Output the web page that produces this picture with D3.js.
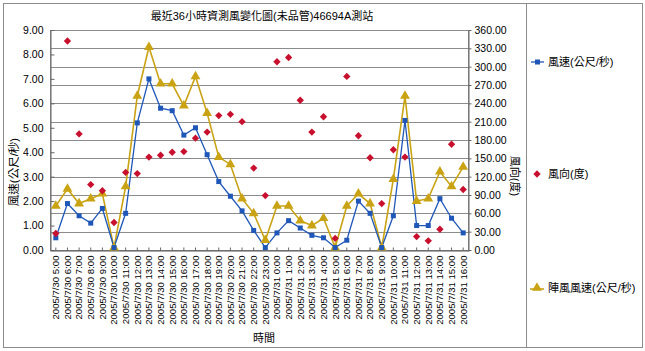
<!DOCTYPE html>
<html><head><meta charset="utf-8">
<script src="https://cdn.jsdelivr.net/npm/d3@7"></script>
<style>
body{margin:0;background:#fff;}
text{font-family:"Liberation Sans",Arial,"Noto Sans CJK TC",sans-serif;fill:#000;}
.cjk{font-family:"Liberation Sans","Noto Sans CJK TC",sans-serif;}
</style></head>
<body><svg id="c" width="645" height="351"></svg>
<script>
const title = "最近36小時資測風變化圖(未品管)46694A測站";
const times = [
"2005/7/30 5:00","2005/7/30 6:00","2005/7/30 7:00","2005/7/30 8:00","2005/7/30 9:00",
"2005/7/30 10:00","2005/7/30 11:00","2005/7/30 12:00","2005/7/30 13:00","2005/7/30 14:00",
"2005/7/30 15:00","2005/7/30 16:00","2005/7/30 17:00","2005/7/30 18:00","2005/7/30 19:00",
"2005/7/30 20:00","2005/7/30 21:00","2005/7/30 22:00","2005/7/30 23:00","2005/7/31 0:00",
"2005/7/31 1:00","2005/7/31 2:00","2005/7/31 3:00","2005/7/31 4:00","2005/7/31 5:00",
"2005/7/31 6:00","2005/7/31 7:00","2005/7/31 8:00","2005/7/31 9:00","2005/7/31 10:00",
"2005/7/31 11:00","2005/7/31 12:00","2005/7/31 13:00","2005/7/31 14:00","2005/7/31 15:00",
"2005/7/31 16:00"];
const windSpeed = [0.5,1.9,1.4,1.1,1.7,0.1,1.5,5.2,7.0,5.8,5.7,4.7,5.0,3.9,2.8,2.2,1.6,0.8,0.1,0.7,1.2,0.9,0.6,0.5,0.1,0.4,2.0,1.5,0.1,1.4,5.3,1.0,1.0,2.1,1.3,0.7];
const windDir = [27,342,190,107,97,45,127,125,152,155,160,161,183,193,220,222,210,134,89,308,315,245,193,218,19,284,187,151,76,164,152,22,15,34,173,99];
const gustSpeed = [1.8,2.5,1.9,2.1,2.3,0.1,2.6,6.3,8.3,6.8,6.8,5.9,7.1,5.6,3.8,3.5,2.1,1.5,0.4,1.8,1.8,1.2,1.0,1.3,0.1,1.8,2.3,1.9,0.1,2.9,6.3,2.0,2.1,3.2,2.6,3.4];
const leftTicks = [0,1,2,3,4,5,6,7,8,9];
const rightTicks = [0,30,60,90,120,150,180,210,240,270,300,330,360];
const names = {speed:"風速(公尺/秒)", dir:"風向(度)", gust:"陣風風速(公尺/秒)"};
const axisTitles = {left:"風速(公尺/秒)", right:"風向(度)", x:"時間"};

const svg = d3.select("#c");
const L=50,R=469,T=30,B=250;
const blue="#1f57b8", gold="#c9a313", red="#c8102e", grid="#8c8c8c";

// frames
svg.append("rect").attr("x",3.5).attr("y",3.5).attr("width",639).attr("height",344)
  .attr("fill","none").attr("stroke","#8c8c8c");
svg.append("line").attr("x1",526.5).attr("x2",526.5).attr("y1",3.5).attr("y2",347.5).attr("stroke","#8c8c8c");

const x = d3.scaleBand().domain(times).range([L,R]);
const cx = d => x(d)+x.bandwidth()/2;
const yL = d3.scaleLinear().domain([0,9]).range([B,T]);
const yR = d3.scaleLinear().domain([0,360]).range([B,T]);

// gridlines from right axis
svg.append("g").selectAll("line").data(rightTicks).join("line")
  .attr("x1",L).attr("x2",R).attr("y1",d=>Math.round(yR(d))+0.5).attr("y2",d=>Math.round(yR(d))+0.5)
  .attr("stroke",grid).attr("stroke-width",1);
// plot border
svg.append("rect").attr("x",L+0.5).attr("y",T+0.5).attr("width",R-L-1).attr("height",B-T)
  .attr("fill","none").attr("stroke",grid);

// axes
const ax = svg.append("g").attr("transform",`translate(${L+0.5},0)`)
  .call(d3.axisLeft(yL).tickValues(leftTicks).tickFormat(d3.format(".2f")).tickSizeInner(-4).tickSizeOuter(0).tickPadding(7));
const ar = svg.append("g").attr("transform",`translate(${R-0.5},0)`)
  .call(d3.axisRight(yR).tickValues(rightTicks).tickFormat(d3.format(".2f")).tickSizeInner(3).tickSizeOuter(0).tickPadding(3));
const xb = svg.append("g").attr("transform",`translate(0,${B+0.5})`)
  .call(d3.axisBottom(x).tickSizeInner(-3).tickSizeOuter(0).tickPadding(5));
[ax,ar,xb].forEach(g=>{
  g.select(".domain").attr("stroke","#666");
  g.selectAll(".tick line").attr("stroke","#666");
  g.selectAll("text").attr("font-size","10.5px").attr("fill","#000");
});
xb.select(".domain").attr("stroke","#555");
xb.selectAll("text").attr("font-size","9.6px").attr("text-anchor","end")
  .attr("transform","rotate(-90)").attr("x",-5).attr("y",0).attr("dy","0.35em");

// titles
svg.append("text").attr("class","cjk").attr("x",262).attr("y",20).attr("text-anchor","middle")
  .attr("font-size","11px").text(title);
svg.append("text").attr("class","cjk").attr("transform","translate(18,172) rotate(-90)")
  .attr("text-anchor","middle").attr("font-size","11.5px").text(axisTitles.left);
svg.append("text").attr("class","cjk").attr("transform","translate(511,176) rotate(90)")
  .attr("text-anchor","middle").attr("font-size","11px").text(axisTitles.right);
svg.append("text").attr("class","cjk").attr("x",264).attr("y",342).attr("text-anchor","middle")
  .attr("font-size","11px").text(axisTitles.x);

// series
const line = (ys,scale)=>d3.line().x((d,i)=>cx(times[i])).y(d=>scale(d))(ys);
svg.append("path").attr("d",line(gustSpeed,yL)).attr("fill","none").attr("stroke",gold).attr("stroke-width",1.6);
svg.append("path").attr("d",line(windSpeed,yL)).attr("fill","none").attr("stroke",blue).attr("stroke-width",1.3);
const tri = d3.symbol().type(d3.symbolTriangle).size(42);
const dia = d3.symbol().type(d3.symbolSquare).size(27);
svg.append("g").selectAll("path").data(gustSpeed).join("path")
  .attr("d",tri).attr("transform",(d,i)=>`translate(${cx(times[i])},${yL(d)})`).attr("fill",gold);
svg.append("g").selectAll("rect").data(windSpeed).join("rect")
  .attr("x",(d,i)=>cx(times[i])-2.5).attr("y",d=>yL(d)-2.5).attr("width",5).attr("height",5).attr("fill",blue);
svg.append("g").selectAll("path").data(windDir).join("path")
  .attr("d",dia).attr("transform",(d,i)=>`translate(${cx(times[i])},${yR(d)}) rotate(45)`).attr("fill",red);

// legend
const lg = svg.append("g");
lg.append("line").attr("x1",531).attr("x2",544).attr("y1",62).attr("y2",62).attr("stroke",blue).attr("stroke-width",1.3);
lg.append("rect").attr("x",535).attr("y",59.5).attr("width",5).attr("height",5).attr("fill",blue);
lg.append("text").attr("class","cjk").attr("x",548).attr("y",66).attr("font-size","11px").text(names.speed);
lg.append("path").attr("d",dia).attr("transform","translate(537,174) rotate(45)").attr("fill",red);
lg.append("text").attr("class","cjk").attr("x",548).attr("y",178).attr("font-size","11px").text(names.dir);
lg.append("line").attr("x1",530).attr("x2",544).attr("y1",289).attr("y2",289).attr("stroke",gold).attr("stroke-width",1.6);
lg.append("path").attr("d",tri).attr("transform","translate(537,288)").attr("fill",gold);
lg.append("text").attr("class","cjk").attr("x",548).attr("y",292).attr("font-size","11px").text(names.gust);
</script></body></html>
